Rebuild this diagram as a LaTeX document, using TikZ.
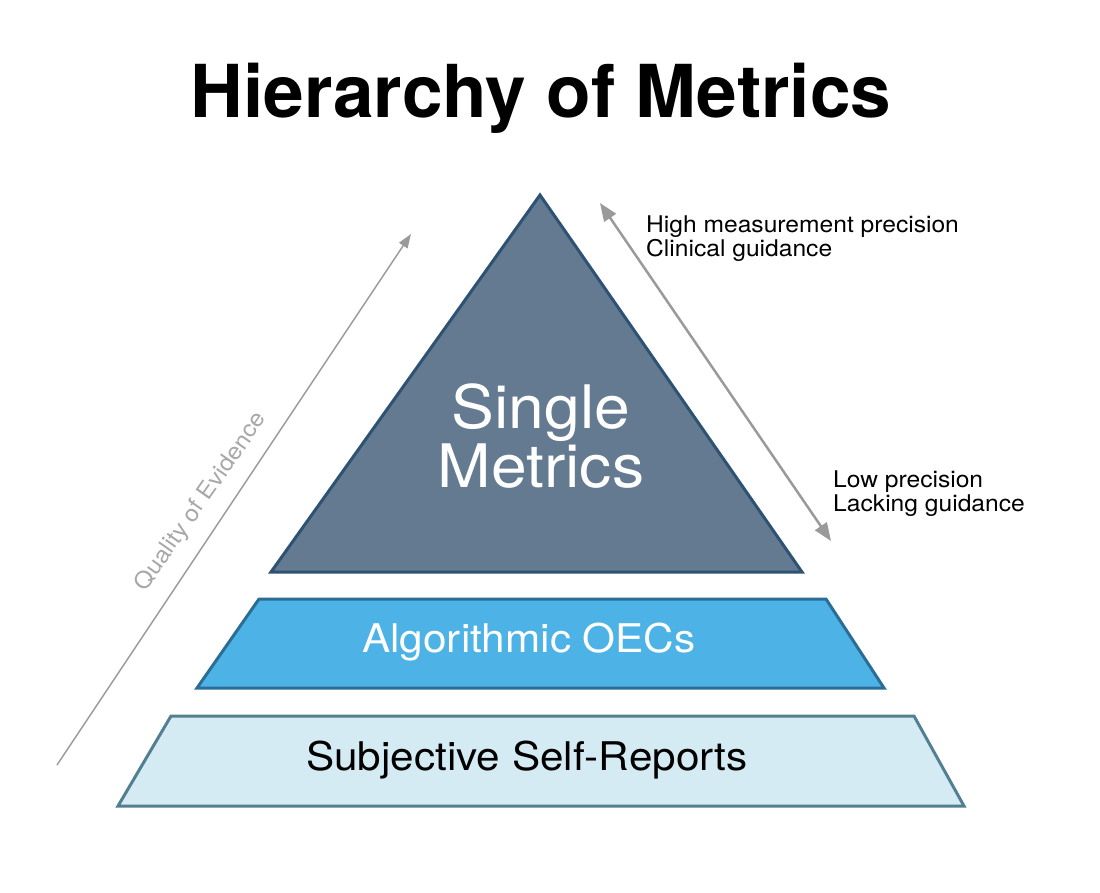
\documentclass[tikz,border=0pt]{standalone}
\usepackage{fontspec}
\setmainfont{TeX Gyre Heros}
\newfontfamily\widefont[FakeStretch=1.07]{TeX Gyre Heros}
\usetikzlibrary{arrows.meta}
\definecolor{triFill}{HTML}{637A91}
\definecolor{triLine}{HTML}{2D5273}
\definecolor{midFill}{HTML}{4DB3E6}
\definecolor{midLine}{HTML}{2B6D94}
\definecolor{botFill}{HTML}{D4EBF3}
\definecolor{botLine}{HTML}{527F92}
\definecolor{arrGray}{HTML}{9A9A9A}
\definecolor{lblGray}{HTML}{A8A8A8}
\tikzset{
  tier/.style={line width=3pt, line join=miter},
  note/.style={anchor=base west, inner sep=0pt, font=\widefont\fontsize{23}{25}\selectfont},
  bigarrow/.style={draw=arrGray, line width=2.5pt, {Triangle[length=18pt,width=14pt]}-{Triangle[length=18pt,width=14pt]}},
  thinarrow/.style={draw=arrGray, line width=1.5pt, -{Triangle[length=14pt,width=10pt]}},
}
\begin{document}
\begin{tikzpicture}[x=1pt,y=-1pt]
\useasboundingbox (0,0) rectangle (1100,892);
% title
\node[anchor=base, inner sep=0pt, font=\fontsize{73}{80}\selectfont\bfseries] (title) at (541,117) {Hierarchy of Metrics};
% tiers
\draw[tier, fill=triFill, draw=triLine] (540,195) -- (802,572) -- (271,572) -- cycle;
\draw[tier, fill=midFill, draw=midLine] (259,599) -- (826,599) -- (884,688) -- (197,688) -- cycle;
\draw[tier, fill=botFill, draw=botLine] (171,716) -- (914,716) -- (964,806) -- (118,806) -- cycle;
% tier labels
\node[anchor=base, inner sep=0pt, text=white, font=\widefont\fontsize{60}{59}\selectfont] (single) at (541,428) {Single};
\node[anchor=base, inner sep=0pt, text=white, font=\widefont\fontsize{60}{59}\selectfont] (metrics) at (541,487) {Metrics};
\node[anchor=base, inner sep=0pt, text=white, font=\widefont\fontsize{39.5}{42}\selectfont] (algo) at (529,652) {Algorithmic OECs};
\node[anchor=base, inner sep=0pt, text=black, font=\widefont\fontsize{39.5}{42}\selectfont] (subj) at (527,770) {Subjective Self-Reports};
% left arrow
\coordinate (qStart) at (57,765);
\coordinate (qEnd) at (411,234);
\draw[thinarrow] (qStart) -- (qEnd);
\node[inner sep=0pt, text=lblGray, rotate=55, font=\widefont\fontsize{23}{24}\selectfont] (quality) at (201,502) {Quality of Evidence};
% right arrow
\coordinate (pTop) at (600,203);
\coordinate (pBot) at (831,541);
\draw[bigarrow] (pTop) -- (pBot);
\node[note] (high) at (646,232) {High measurement precision};
\node[note] (clin) at (646,256) {Clinical guidance};
\node[note] (low) at (833,487) {Low precision};
\node[note] (lack) at (833,511) {Lacking guidance};
\end{tikzpicture}
\end{document}
